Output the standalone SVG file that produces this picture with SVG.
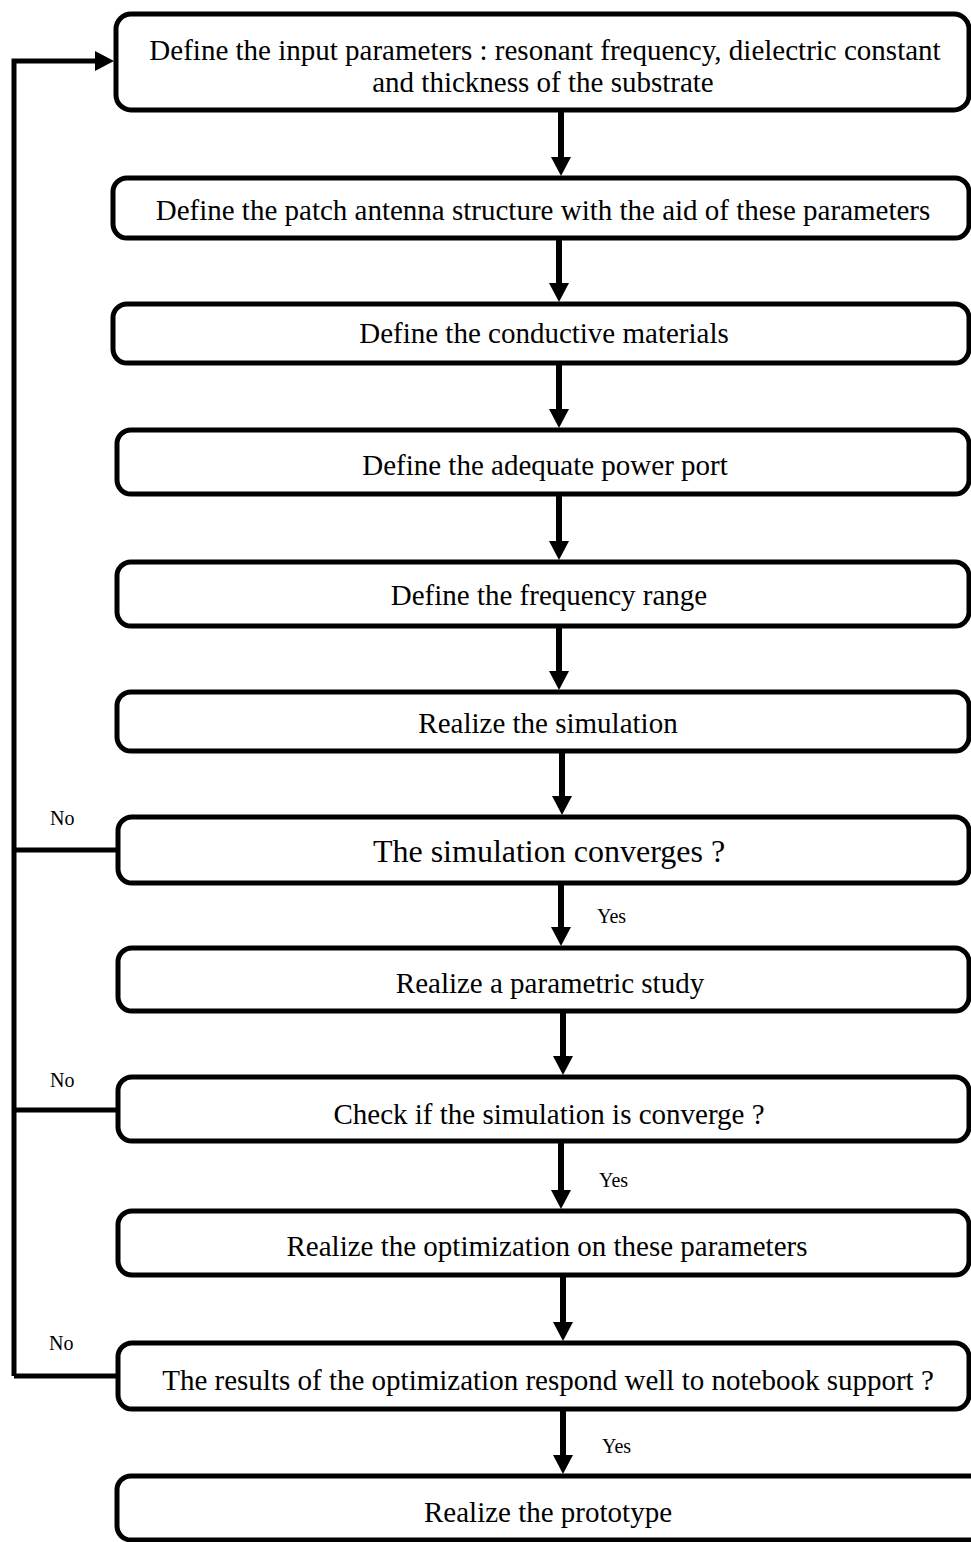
<svg xmlns="http://www.w3.org/2000/svg" width="971" height="1542" viewBox="0 0 971 1542">
<style>
.box{fill:#fff;stroke:#000;stroke-width:5}
.t{font-family:"Liberation Serif","Times New Roman",serif;font-size:29px;fill:#000;text-anchor:middle}
.big{font-size:32px}
.lbl{font-family:"Liberation Serif","Times New Roman",serif;font-size:20px;fill:#000}
.c{fill:none;stroke:#000;stroke-width:5}
.a{fill:none;stroke:#000;stroke-width:6}
</style>
<defs>
<marker id="ah" markerUnits="userSpaceOnUse" markerWidth="20" markerHeight="20" refX="9" refY="10" orient="auto">
<path d="M0,0 L19,10 L0,20 z" fill="#000"/>
</marker>
</defs>
<rect width="971" height="1542" fill="#fff"/>
<g id="connectors">
<polyline class="c" points="14,1376 14,61 104,61" marker-end="url(#ah)"/>
<line class="c" x1="14" y1="850" x2="118" y2="850"/>
<line class="c" x1="14" y1="1110" x2="118" y2="1110"/>
<line class="c" x1="14" y1="1376" x2="118" y2="1376"/>
<line class="a" x1="561" y1="110" x2="561" y2="166" marker-end="url(#ah)"/>
<line class="a" x1="559" y1="238" x2="559" y2="292" marker-end="url(#ah)"/>
<line class="a" x1="559" y1="363" x2="559" y2="418" marker-end="url(#ah)"/>
<line class="a" x1="559" y1="494" x2="559" y2="550" marker-end="url(#ah)"/>
<line class="a" x1="559" y1="626" x2="559" y2="680" marker-end="url(#ah)"/>
<line class="a" x1="562" y1="751" x2="562" y2="805" marker-end="url(#ah)"/>
<line class="a" x1="561" y1="883" x2="561" y2="936" marker-end="url(#ah)"/>
<line class="a" x1="563" y1="1011" x2="563" y2="1065" marker-end="url(#ah)"/>
<line class="a" x1="561" y1="1141" x2="561" y2="1199" marker-end="url(#ah)"/>
<line class="a" x1="563" y1="1275" x2="563" y2="1331" marker-end="url(#ah)"/>
<line class="a" x1="563" y1="1409" x2="563" y2="1464" marker-end="url(#ah)"/>
<text class="lbl" x="50" y="825">No</text>
<text class="lbl" x="50" y="1087">No</text>
<text class="lbl" x="49" y="1350">No</text>
<text class="lbl" x="597" y="923">Yes</text>
<text class="lbl" x="599" y="1187">Yes</text>
<text class="lbl" x="602" y="1453">Yes</text>
</g>
<g id="n1"><rect class="box" x="116" y="14" width="853" height="96" rx="15"/>
<text class="t" x="545" y="60">Define the input parameters : resonant frequency, dielectric constant</text>
<text class="t" x="543" y="92">and thickness of the substrate</text></g>
<g id="n2"><rect class="box" x="113" y="178" width="856" height="60" rx="14"/>
<text class="t" x="543" y="220">Define the patch antenna structure with the aid of these parameters</text></g>
<g id="n3"><rect class="box" x="113" y="304" width="856" height="59" rx="14"/>
<text class="t" x="544" y="343">Define the conductive materials</text></g>
<g id="n4"><rect class="box" x="117" y="430" width="852" height="64" rx="14"/>
<text class="t" x="545" y="475">Define the adequate power port</text></g>
<g id="n5"><rect class="box" x="117" y="562" width="852" height="64" rx="14"/>
<text class="t" x="549" y="605">Define the frequency range</text></g>
<g id="n6"><rect class="box" x="117" y="692" width="852" height="59" rx="14"/>
<text class="t" x="548" y="733">Realize the simulation</text></g>
<g id="n7"><rect class="box" x="118" y="817" width="851" height="66" rx="14"/>
<text class="t big" x="549" y="862">The simulation converges ?</text></g>
<g id="n8"><rect class="box" x="118" y="948" width="851" height="63" rx="14"/>
<text class="t" x="550" y="993">Realize a parametric study</text></g>
<g id="n9"><rect class="box" x="118" y="1077" width="851" height="64" rx="14"/>
<text class="t" x="549" y="1124">Check if the simulation is converge ?</text></g>
<g id="n10"><rect class="box" x="118" y="1211" width="851" height="64" rx="14"/>
<text class="t" x="547" y="1256">Realize the optimization on these parameters</text></g>
<g id="n11"><rect class="box" x="118" y="1343" width="851" height="66" rx="14"/>
<text class="t" x="548" y="1390">The results of the optimization respond well to notebook support ?</text></g>
<g id="n12"><rect class="box" x="117" y="1476" width="870" height="64" rx="14"/>
<text class="t" x="548" y="1522">Realize the prototype</text></g>
</svg>
